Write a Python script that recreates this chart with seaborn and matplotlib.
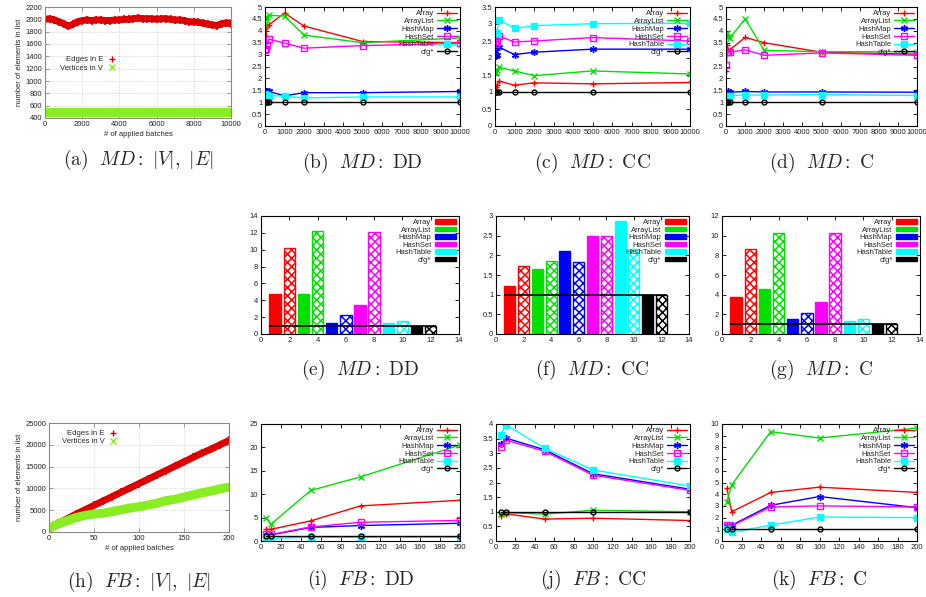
import numpy as np
import pandas as pd
import matplotlib
matplotlib.use("Agg")
import matplotlib.pyplot as plt
from matplotlib.lines import Line2D
from matplotlib.patches import Patch
import seaborn as sns

sns.set_style("ticks")
plt.rcParams['font.family'] = ['Liberation Sans', 'DejaVu Sans']
plt.rcParams['mathtext.fontset'] = 'cm'
plt.rcParams['hatch.linewidth'] = 1.1

# series styling (gnuplot-like)
names = ["Array", "ArrayList", "HashMap", "HashSet", "HashTable", "cfg*"]
colors = ["#ff0000", "#00e000", "#0000ff", "#ff00ff", "#00ffff", "#000000"]
markers = ["+", "x", (6, 2, 0), "s", "s", "o"]
filled = [True, True, True, False, True, False]
msizes = [5, 4.5, 5, 4, 4, 3.5]

# ---- (a) MD sizes
md_batch = [0, 250, 500, 750, 1000, 1250, 1500, 1750, 2000, 2250, 2500, 2750, 3000, 3250,
            3500, 3750, 4000, 4250, 4500, 4750, 5000, 5250, 5500, 5750, 6000, 6250, 6500,
            6750, 7000, 7250, 7500, 7750, 8000, 8250, 8500, 8750, 9000, 9250, 9500, 9750, 10000]
md_edges = [2000, 2010, 1990, 1960, 1930, 1890, 1920, 1960, 1980, 1990, 1980, 1990, 1990, 1980,
            1980, 1990, 1990, 2000, 2000, 2010, 2020, 2010, 2010, 2010, 2000, 2010, 2010,
            2000, 1990, 1990, 1980, 1960, 1960, 1950, 1940, 1920, 1910, 1900, 1930, 1940, 1930]
md_vert_x = [0, 2500, 5000, 7500, 10000]
md_vert = [500, 500, 500, 500, 500]

# ---- MD line panels
md_x = [10, 50, 100, 200, 1000, 2000, 5000, 10000]
md_dd = {
    "Array":     [4.1, 3.8, 4.2, 4.25, 4.75, 4.2, 3.55, 3.5],
    "ArrayList": [4.3, 4.5, 4.6, 4.65, 4.62, 3.82, 3.5, 3.7],
    "HashMap":   [1.48, 1.45, 1.45, 1.45, 1.27, 1.4, 1.4, 1.45],
    "HashSet":   [3.2, 3.25, 3.4, 3.65, 3.48, 3.27, 3.38, 3.47],
    "HashTable": [1.35, 1.3, 1.3, 1.28, 1.25, 1.18, 1.22, 1.22],
    "cfg*":      [1, 1, 1, 1, 1, 1, 1, 1],
}
md_cc = {
    "Array":     [1.1, 1.15, 1.2, 1.32, 1.2, 1.27, 1.24, 1.28],
    "ArrayList": [1.55, 1.6, 1.65, 1.73, 1.62, 1.48, 1.62, 1.53],
    "HashMap":   [2.2, 2.05, 2.1, 2.32, 2.1, 2.17, 2.26, 2.26],
    "HashSet":   [2.47, 2.4, 2.5, 2.65, 2.47, 2.5, 2.6, 2.5],
    "HashTable": [2.75, 2.75, 2.75, 3.13, 2.87, 2.95, 3.01, 3.02],
    "cfg*":      [1, 1, 1, 1, 1, 1, 1, 1],
}
md_c = {
    "Array":     [2.3, 3.4, 3.2, 3.2, 3.72, 3.5, 3.1, 3.02],
    "ArrayList": [3.8, 3.9, 3.75, 3.7, 4.5, 3.18, 3.12, 3.12],
    "HashMap":   [1.35, 1.4, 1.45, 1.42, 1.45, 1.43, 1.43, 1.42],
    "HashSet":   [2.55, 3.1, 3.1, 3.1, 3.2, 2.97, 3.07, 2.97],
    "HashTable": [1.2, 1.15, 1.25, 1.28, 1.3, 1.3, 1.32, 1.28],
    "cfg*":      [1, 1, 1, 1, 1, 1, 1, 1],
}

# ---- MD bar panels (solid / hatched per structure)
bar_pos = [1, 2, 3, 4, 5, 6, 7, 8, 9, 10, 11, 12]
bar_dd = [4.8, 10.2, 4.7, 12.2, 1.3, 2.3, 3.5, 12.1, 1.3, 1.5, 1.0, 1.0]
bar_cc = [1.22, 1.73, 1.65, 1.86, 2.12, 1.83, 2.5, 2.5, 2.88, 2.15, 1.0, 1.0]
bar_c = [3.75, 8.65, 4.55, 10.3, 1.5, 2.15, 3.25, 10.25, 1.35, 1.5, 1.05, 1.05]

# ---- (h) FB sizes
fb_batch = [0, 10, 20, 30, 40, 50, 60, 70, 80, 90, 100, 110, 120, 130, 140, 150, 160, 170, 180, 190, 200]
fb_edges = [1000, 2000, 3000, 4100, 5100, 6100, 7100, 8100, 9100, 10100, 11100, 12100, 13100,
            14100, 15100, 16100, 17100, 18100, 19000, 20000, 21000]
fb_vert = [900, 1800, 2600, 3300, 3800, 4100, 4300, 4700, 5100, 5500, 5800, 6200, 6600,
           7200, 7500, 8000, 8500, 9000, 9400, 9900, 10300]

# ---- FB line panels
fb_x = [5, 10, 50, 100, 200]
fb_dd = {
    "Array":     [2.5, 2.5, 4.3, 7.5, 8.7],
    "ArrayList": [5.0, 3.6, 10.8, 13.7, 20.5],
    "HashMap":   [1.3, 1.3, 2.9, 3.3, 3.8],
    "HashSet":   [1.5, 1.4, 3.0, 4.0, 4.4],
    "HashTable": [0.6, 0.6, 0.8, 0.8, 0.8],
    "cfg*":      [1, 1, 1, 1, 1],
}
fb_cc = {
    "Array":     [0.85, 0.93, 0.75, 0.78, 0.7],
    "ArrayList": [0.92, 0.97, 0.92, 1.05, 1.0],
    "HashMap":   [3.3, 3.52, 3.12, 2.3, 1.77],
    "HashSet":   [3.2, 3.45, 3.07, 2.25, 1.73],
    "HashTable": [3.62, 3.98, 3.17, 2.43, 1.88],
    "cfg*":      [1, 1, 1, 1, 1],
}
fb_c = {
    "Array":     [4.5, 2.5, 4.15, 4.6, 4.15],
    "ArrayList": [3.35, 4.8, 9.35, 8.8, 9.65],
    "HashMap":   [1.3, 1.35, 3.05, 3.8, 2.85],
    "HashSet":   [1.35, 1.3, 2.9, 3.0, 2.9],
    "HashTable": [1.0, 0.75, 1.35, 2.05, 2.0],
    "cfg*":      [1, 1, 1, 1, 1],
}

W, H = 926, 597
fig = plt.figure(figsize=(W / 100, H / 100), dpi=100)


def make_ax(l, r, t, b):
    return fig.add_axes([l / W, 1 - b / H, (r - l) / W, (b - t) / H])


def style_ax(ax, edge="black"):
    ax.tick_params(direction="in", length=3, width=0.6, labelsize=5.5, pad=2,
                   top=True, right=True, colors=edge, labelcolor="#222222")
    for s in ax.spines.values():
        s.set_visible(True)
        s.set_linewidth(0.8)
        s.set_color(edge)


def caption(ax, text, y):
    p = ax.get_position()
    fig.text((p.x0 + p.x1) / 2, 1 - y / H, text, ha="center", va="center", fontsize=14)


def line_panel(ax, xs, data, ymax, ystep, xmax, xstep):
    for name, c, m, f, ms in zip(names, colors, markers, filled, msizes):
        kw = dict(markerfacecolor=c if f else "none", markeredgecolor=c,
                  markeredgewidth=1.0, markersize=ms)
        sns.lineplot(x=xs, y=data[name], color=c, marker=m, linewidth=1.0,
                     label=name, ax=ax, **kw)
    ax.set_xlim(0, xmax)
    ax.set_ylim(0, ymax)
    ax.set_xticks(np.arange(0, xmax + 1, xstep))
    ax.set_yticks(np.arange(0, ymax + 1e-9, ystep))
    ax.set_yticklabels([f"{v:g}" for v in np.arange(0, ymax + 1e-9, ystep)])
    style_ax(ax)
    ax.legend(loc="upper right", markerfirst=False, frameon=False, fontsize=5.5,
              labelspacing=0.05, handlelength=2.6, handletextpad=0.4,
              borderaxespad=0.2, borderpad=0.2)


def bar_panel(ax, vals, ymax, ystep):
    df = pd.DataFrame({"pos": bar_pos, "val": vals})
    sns.barplot(data=df, x="pos", y="val", native_scale=True, color="white",
                width=0.8, saturation=1, errorbar=None, ax=ax)
    for i, p in enumerate(ax.patches):
        c = colors[i // 2]
        if i % 2 == 0:
            p.set_facecolor(c)
            p.set_edgecolor(c)
        else:
            p.set_facecolor("white")
            p.set_edgecolor(c)
            p.set_hatch("xxxx")
        p.set_linewidth(1.0)
    ax.hlines(1, 0.6, 12.4, color="black", linewidth=1.2, zorder=5)
    ax.set_xlim(0, 14)
    ax.set_ylim(0, ymax)
    ax.set_xticks(np.arange(0, 15, 2))
    ax.set_yticks(np.arange(0, ymax + 1e-9, ystep))
    ax.set_yticklabels([f"{v:g}" for v in np.arange(0, ymax + 1e-9, ystep)])
    ax.set_xlabel("")
    ax.set_ylabel("")
    style_ax(ax)
    handles = [Patch(facecolor=c, edgecolor=c) for c in colors]
    ax.legend(handles, names, loc="upper right", markerfirst=False, frameon=False,
              fontsize=5.5, labelspacing=0.05, handlelength=2.8, handleheight=0.6,
              handletextpad=0.4, borderaxespad=0.2, borderpad=0.2)


def size_panel(ax, x_e, y_e, x_v, y_v):
    sns.lineplot(x=x_e, y=y_e, color="#dd0000", linewidth=5, ax=ax)
    sns.scatterplot(x=x_e, y=y_e, color="#dd0000", marker="+", s=30, linewidth=1.2, ax=ax)
    sns.lineplot(x=x_v, y=y_v, color="#88ee22", linewidth=6.5, ax=ax)
    ax.grid(True, color="#cccccc", linestyle=(0, (2, 2)), linewidth=0.5)
    ax.set_ylabel("number of elements in list", fontsize=5.5, labelpad=2)
    ax.set_xlabel("# of applied batches", fontsize=5.5, labelpad=2)
    style_ax(ax, edge="#888888")
    handles = [Line2D([], [], color="#dd0000", marker="+", linestyle="none", markersize=5),
               Line2D([], [], color="#88ee22", marker="x", linestyle="none", markersize=4)]
    return handles


# (a)
ax = make_ax(45, 231, 7, 118)
h = size_panel(ax, md_batch, md_edges, md_vert_x, md_vert)
ax.set_xlim(0, 10000)
ax.set_ylim(400, 2200)
ax.set_yticks(np.arange(400, 2201, 200))
ax.set_xticks(np.arange(0, 10001, 2000))
ax.legend(h, ["Edges in E", "Vertices in V"], loc="upper right", bbox_to_anchor=(0.42, 0.62),
          markerfirst=False, frameon=False, fontsize=5.5, labelspacing=0.1,
          handlelength=1.2, handletextpad=0.5)
caption(ax, r"$\mathrm{(a)}\ \ MD\mathrm{:}\ |V|,\ |E|$", 160)

# (b) (c) (d)
ax = make_ax(265, 460, 7, 126)
line_panel(ax, md_x, md_dd, 5, 0.5, 10000, 1000)
caption(ax, r"$\mathrm{(b)}\ \ MD\mathrm{:\ DD}$", 163)
ax = make_ax(495, 690, 7, 126)
line_panel(ax, md_x, md_cc, 3.5, 0.5, 10000, 1000)
caption(ax, r"$\mathrm{(c)}\ \ MD\mathrm{:\ CC}$", 163)
ax = make_ax(726, 917, 7, 126)
line_panel(ax, md_x, md_c, 5, 0.5, 10000, 1000)
caption(ax, r"$\mathrm{(d)}\ \ MD\mathrm{:\ C}$", 163)

# (e) (f) (g)
ax = make_ax(261, 459, 216, 334)
bar_panel(ax, bar_dd, 14, 2)
caption(ax, r"$\mathrm{(e)}\ \ MD\mathrm{:\ DD}$", 370)
ax = make_ax(496, 689, 216, 334)
bar_panel(ax, bar_cc, 3, 0.5)
caption(ax, r"$\mathrm{(f)}\ \ MD\mathrm{:\ CC}$", 370)
ax = make_ax(722, 920, 216, 334)
bar_panel(ax, bar_c, 12, 2)
caption(ax, r"$\mathrm{(g)}\ \ MD\mathrm{:\ C}$", 370)

# (h)
ax = make_ax(49, 229, 423, 532)
h = size_panel(ax, fb_batch, fb_edges, fb_batch, fb_vert)
sns.scatterplot(x=fb_batch, y=fb_vert, color="#88ee22", marker="x", s=20, linewidth=1.0, ax=ax)
ax.set_xlim(0, 200)
ax.set_ylim(0, 25000)
ax.set_yticks(np.arange(0, 25001, 5000))
ax.set_xticks(np.arange(0, 201, 50))
ax.legend(h, ["Edges in E", "Vertices in V"], loc="upper right", bbox_to_anchor=(0.42, 1.0),
          markerfirst=False, frameon=False, fontsize=5.5, labelspacing=0.1,
          handlelength=1.2, handletextpad=0.5)
caption(ax, r"$\mathrm{(h)}\ \ FB\mathrm{:}\ |V|,\ |E|$", 582)

# (i) (j) (k)
ax = make_ax(261, 460, 424, 541)
line_panel(ax, fb_x, fb_dd, 25, 5, 200, 20)
caption(ax, r"$\mathrm{(i)}\ \ FB\mathrm{:\ DD}$", 580)
ax = make_ax(496, 690, 424, 541)
line_panel(ax, fb_x, fb_cc, 4, 0.5, 200, 20)
caption(ax, r"$\mathrm{(j)}\ \ FB\mathrm{:\ CC}$", 580)
ax = make_ax(722, 917, 424, 541)
line_panel(ax, fb_x, fb_c, 10, 1, 200, 20)
caption(ax, r"$\mathrm{(k)}\ \ FB\mathrm{:\ C}$", 580)

fig.savefig("out.png", dpi=100)
